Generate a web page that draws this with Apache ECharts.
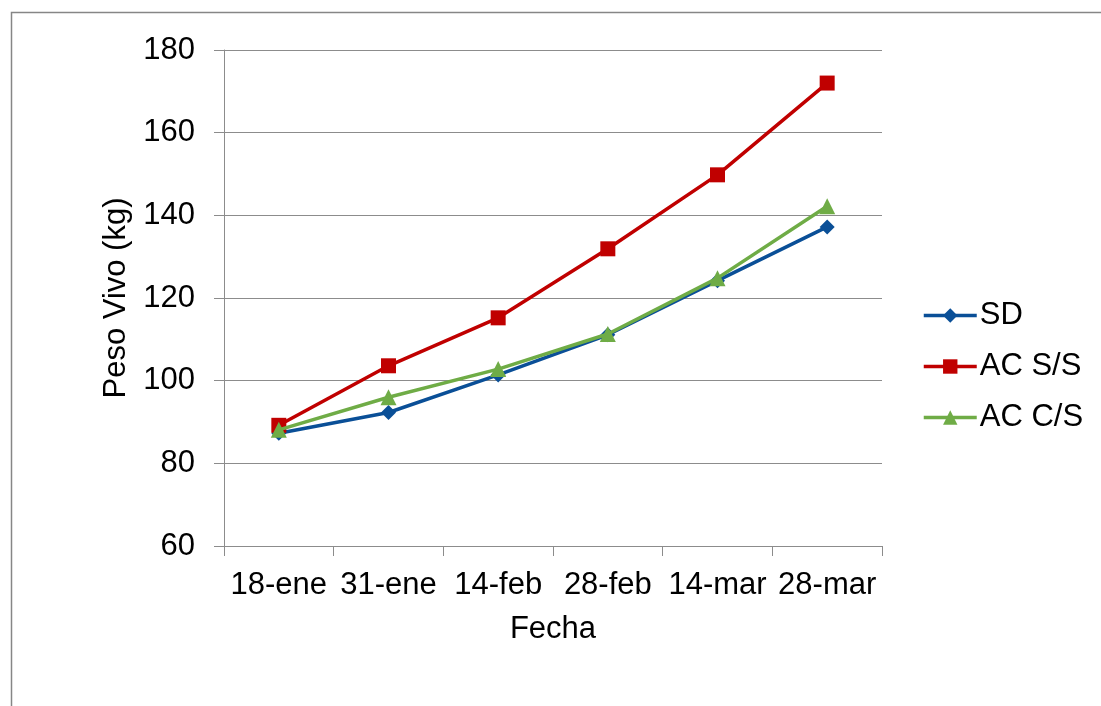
<!DOCTYPE html>
<html>
<head>
<meta charset="utf-8">
<script src="https://cdn.jsdelivr.net/npm/echarts@6/dist/echarts.min.js"></script>
<style>
  html, body { margin: 0; padding: 0; background: #ffffff; }
  #chart { width: 1101px; height: 706px; }
</style>
</head>
<body>
<div id="chart"></div>
<script>
// Fechas de pesaje
const fechas = ['18-ene', '31-ene', '14-feb', '28-feb', '14-mar', '28-mar'];

// Peso vivo (kg) por tratamiento
const pesoSD   = [87.3, 92.3, 101.4, 111.1, 124.2, 137.2];
const pesoACSS = [89.2, 103.6, 115.2, 131.9, 149.8, 172.0];
const pesoACCS = [88.1, 96.0, 102.8, 111.3, 124.8, 142.2];

const FONT = '"Liberation Sans", Arial, sans-serif';
const GRID_GRAY = '#8c8c8c';

const chart = echarts.init(document.getElementById('chart'), null, { renderer: 'canvas' });

chart.setOption({
  animation: false,
  backgroundColor: '#ffffff',
  textStyle: { fontFamily: FONT, color: '#000000' },
  graphic: [
    {
      // marco exterior del gráfico
      type: 'rect',
      shape: { x: 11.5, y: 12.5, width: 1200, height: 800 },
      style: { fill: 'none', stroke: '#868686', lineWidth: 1.5 },
      silent: true
    }
  ],
  grid: { left: 224, right: 219, top: 50, bottom: 160, containLabel: false },
  legend: {
    orient: 'vertical',
    left: 917,
    top: 295,
    itemWidth: 53,
    itemHeight: 18,
    itemGap: 20,
    lineStyle: { width: 3.5 },
    textStyle: { fontFamily: FONT, fontSize: 31, color: '#000000', lineHeight: 31, padding: [0, 0, 0, -2] },
    data: ['SD', 'AC S/S', 'AC C/S']
  },
  xAxis: {
    type: 'category',
    data: fechas,
    boundaryGap: true,
    name: 'Fecha',
    nameLocation: 'middle',
    nameGap: 83,
    nameTextStyle: { fontFamily: FONT, fontSize: 31, color: '#000000', verticalAlign: 'middle' },
    axisLine: { lineStyle: { color: GRID_GRAY, width: 1 } },
    axisTick: { show: true, length: 10, inside: false, lineStyle: { color: GRID_GRAY } },
    axisLabel: { fontFamily: FONT, fontSize: 31, color: '#000000', margin: 24, interval: 0 },
    splitLine: { show: false }
  },
  yAxis: {
    type: 'value',
    min: 60,
    max: 180,
    interval: 20,
    name: 'Peso Vivo (kg)',
    nameLocation: 'middle',
    nameGap: 105,
    nameRotate: 90,
    nameTextStyle: { fontFamily: FONT, fontSize: 31, color: '#000000', verticalAlign: 'middle' },
    axisLine: { show: true, lineStyle: { color: GRID_GRAY, width: 1 } },
    axisTick: { show: true, length: 10, inside: false, lineStyle: { color: GRID_GRAY } },
    axisLabel: { fontFamily: FONT, fontSize: 31, color: '#000000', margin: 29, verticalAlign: 'middle', padding: [7, 0, 0, 0] },
    splitLine: { show: true, lineStyle: { color: GRID_GRAY, width: 1 } }
  },
  series: [
    {
      name: 'SD',
      type: 'line',
      data: pesoSD,
      symbol: 'diamond',
      symbolSize: 15,
      color: '#0A4F97',
      lineStyle: { width: 3.5, color: '#0A4F97' },
      itemStyle: { color: '#0A4F97' },
      z: 2
    },
    {
      name: 'AC S/S',
      type: 'line',
      data: pesoACSS,
      symbol: 'rect',
      symbolSize: 15,
      color: '#C00000',
      lineStyle: { width: 3.5, color: '#C00000' },
      itemStyle: { color: '#C00000' },
      z: 3
    },
    {
      name: 'AC C/S',
      type: 'line',
      data: pesoACCS,
      symbol: 'triangle',
      symbolSize: 16,
      color: '#6FAC46',
      lineStyle: { width: 3.5, color: '#6FAC46' },
      itemStyle: { color: '#6FAC46' },
      z: 4
    }
  ]
});
</script>
</body>
</html>
